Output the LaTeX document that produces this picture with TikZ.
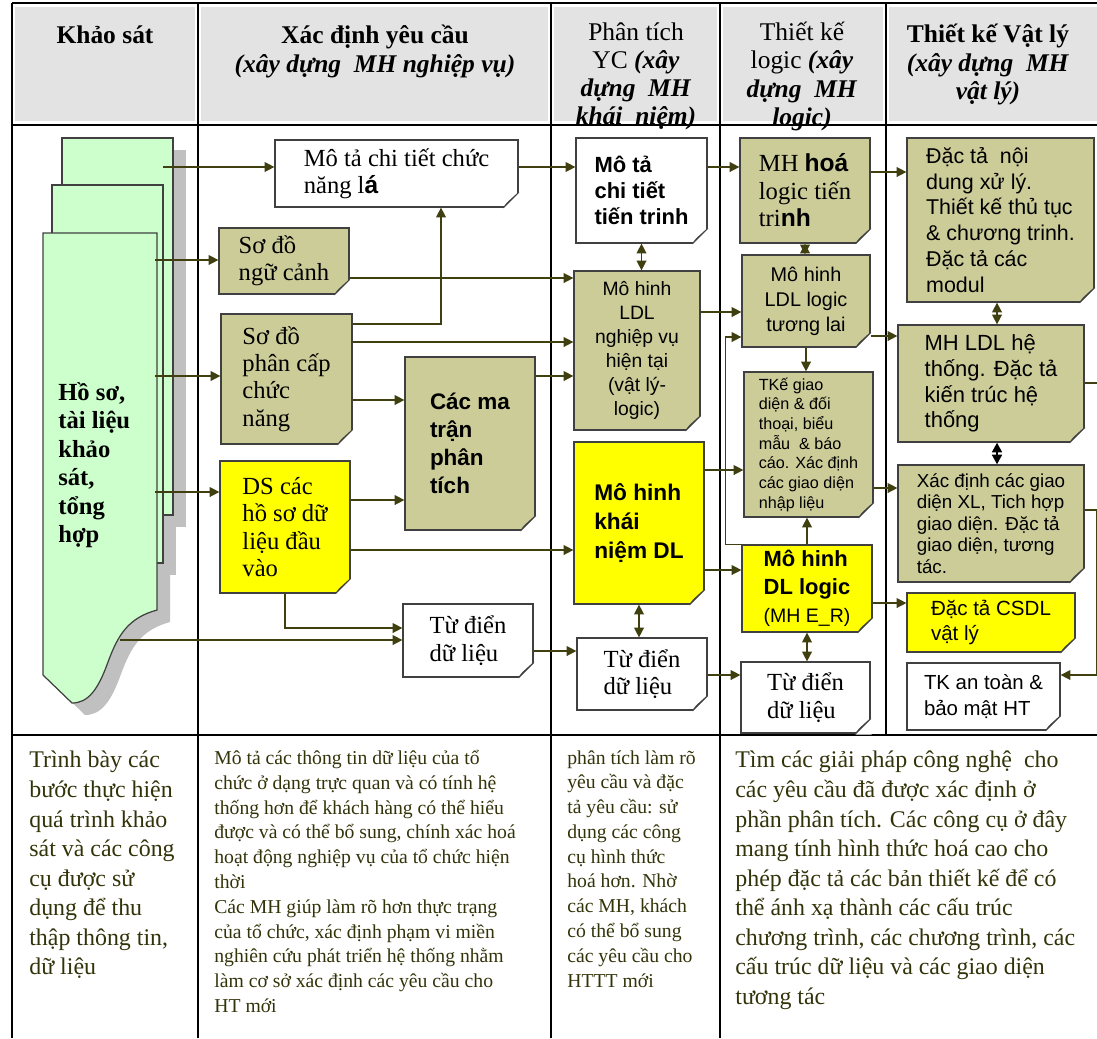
\documentclass[tikz,border=0pt]{standalone}
\usepackage{fontspec}
\setmainfont{Liberation Serif}
\setsansfont{Liberation Sans}
\usetikzlibrary{arrows.meta}
\definecolor{khaki}{HTML}{CCCC99}
\definecolor{docyellow}{HTML}{FFFF00}
\definecolor{pagegreen}{HTML}{CCFFCC}
\definecolor{headgray}{HTML}{E3E3E3}
\definecolor{boxline}{HTML}{404040}
\definecolor{linkol}{HTML}{3F3F0F}
\definecolor{textol}{HTML}{33330A}
\definecolor{foldtan}{HTML}{D9A47F}
\definecolor{foldyel}{HTML}{CCC23A}
\definecolor{foldgray}{HTML}{C8C8C8}
\definecolor{shadowgray}{HTML}{C0C0C0}
% dog-ear on the bottom right corner of a note
\newcommand{\fold}[2]{%
  \fill[white] ([xshift=-0.3cm,yshift=-0.02cm]#1.south east) -- ([xshift=0.02cm,yshift=-0.02cm]#1.south east)
    -- ([xshift=0.02cm,yshift=0.3cm]#1.south east) -- ([yshift=0.3cm]#1.south east) -- ([xshift=-0.3cm]#1.south east) -- cycle;
  \filldraw[draw=boxline, fill=#2, line width=0.6pt, line join=round] ([xshift=-0.3cm]#1.south east)
    -- ([yshift=0.3cm]#1.south east) -- ([xshift=-0.22cm,yshift=0.1cm]#1.south east) -- cycle;}

\begin{document}
\begin{tikzpicture}[x=0.02cm, y=-0.02cm,
  >={Triangle[length=5.5pt,width=5.5pt]},
  frame/.style={draw=black, line width=0.8pt},
  note/.style={draw=boxline, line width=0.7pt, inner sep=0pt, align=left},
  wnote/.style={note, fill=white},
  knote/.style={note, fill=khaki},
  ynote/.style={note, fill=docyellow},
  sz/.style 2 args={minimum width=#1*0.02cm, minimum height=#2*0.02cm},
  rmtext/.style={font=\fontsize{14}{15.6}\selectfont},
  head/.style={anchor=north, align=center, inner sep=0pt, font=\fontsize{14.5}{16}\selectfont},
  desc/.style={anchor=north west, align=left, inner sep=0pt, text=textol}]
\useasboundingbox (0,0) rectangle (1097,1038);
% ---- table
\fill[headgray] (15,7) rectangle (195,121);
\fill[headgray] (201,7) rectangle (548,121);
\fill[headgray] (554,7) rectangle (717,121);
\fill[headgray] (723,7) rectangle (883,121);
\fill[headgray] (889,7) rectangle (1097,121);
\draw[frame] (12,3) -- (1097,3); \draw[frame] (12,125) -- (1097,125); \draw[frame] (12,735) -- (1097,735);
\draw[frame] (12,3) -- (12,1038); \draw[frame] (198,3) -- (198,1038); \draw[frame] (551,3) -- (551,1038);
\draw[frame] (720,3) -- (720,1038); \draw[frame] (886,3) -- (886,735);
\node[head] (h1) at (105,25) {\textbf{Khảo sát}};
\node[head] (h2) at (375,25) {\textbf{Xác định yêu cầu}\\\textbf{\textit{(xây dựng~ MH nghiệp vụ)}}};
\node[head] (h3) at (636,22) {Phân tích\\YC \textbf{\textit{(xây}}\\\textbf{\textit{dựng~ MH}}\\\textbf{\textit{khái~ niệm)}}};
\node[head] (h4) at (802,22) {Thiết kế\\logic \textbf{\textit{(xây}}\\\textbf{\textit{dựng~ MH}}\\\textbf{\textit{logic)}}};
\node[head] (h5) at (988,24) {\textbf{Thiết kế Vật lý}\\\textbf{\textit{(xây dựng~ MH}}\\\textbf{\textit{vật lý)}}};
% ---- survey stack
\fill[shadowgray] (75,150) rectangle (186,527);
\fill[shadowgray] (65,197) rectangle (176,575);
\fill[shadowgray, shift={(13,12)}] (43,233) -- (157,233) -- (157,610) .. controls (128,618) and (118,635) .. (108,662)
  .. controls (98,690) and (88,703) .. (72,703) -- (43,675) -- cycle;
\filldraw[fill=pagegreen, draw=boxline, line width=0.7pt] (62,138) rectangle (173,515);
\filldraw[fill=pagegreen, draw=boxline, line width=0.7pt] (52,185) rectangle (163,563);
\filldraw[fill=pagegreen, draw=boxline, line width=0.7pt] (43,233) -- (157,233) -- (157,610) .. controls (128,618) and (118,635) .. (108,662)
  .. controls (98,690) and (88,703) .. (72,703) -- (43,675) -- cycle;
\node[anchor=west, align=left, inner sep=0pt, font=\bfseries\fontsize{14}{16.2}\selectfont] (hoso) at (58,465) {Hồ sơ,\\tài liệu\\khảo\\sát,\\tổng\\hợp};
\coordinate (p1) at (163,167); \coordinate (p2) at (155,260); \coordinate (p3) at (155,376);
\coordinate (p4) at (155,492); \coordinate (p5) at (120,640);
% ---- requirements column
\node[wnote, rmtext, sz={243}{67}] (mtcn) at (396.5,173.5) {Mô tả chi tiết chức\\năng l{\sffamily\bfseries á}};
\node[knote, rmtext, sz={130}{66}] (sdnc) at (284,261) {Sơ đồ\\ngữ cảnh};
\node[knote, rmtext, sz={131}{130}] (sdpc) at (286.5,379) {Sơ đồ\\phân cấp\\chức\\năng};
\node[ynote, rmtext, sz={130}{132}] (dsds) at (285,527) {DS các\\hồ sơ dữ\\liệu đầu\\vào};
\node[knote, font=\sffamily\bfseries\fontsize{12.8}{15.9}\selectfont, sz={130}{173}] (cmt) at (470,443.5) {Các ma\\trận\\phân\\tích};
\node[wnote, rmtext, sz={130}{73}] (tdd1) at (468,640.5) {Từ điển\\dữ liệu};
% ---- analysis column
\node[wnote, font=\sffamily\bfseries\fontsize{12.5}{14.7}\selectfont, sz={131}{105}] (mttt) at (641.5,190.5) {Mô tả\\chi tiết\\tiến trinh};
\node[knote, align=center, font=\sffamily\fontsize{11}{13.6}\selectfont, sz={126}{159}] (ldlnv) at (637,350.5) {Mô hinh\\LDL\\nghiệp vụ\\hiện tại\\(vật lý-\\logic)};
\node[ynote, font=\sffamily\bfseries\fontsize{12.9}{16.4}\selectfont, sz={130}{162}] (mhkn) at (639,523) {Mô hinh\\khái\\niệm DL};
\node[wnote, rmtext, sz={130}{72}] (tdd2) at (642,674) {Từ điển\\dữ liệu};
% ---- logical design column
\node[knote, rmtext, sz={130}{105}] (mhhoa) at (805,190.5) {MH {\sffamily\bfseries hoá}\\logic tiến\\tri{\sffamily\bfseries nh}};
\node[knote, align=center, font=\sffamily\fontsize{11.3}{14.2}\selectfont, sz={128}{92}] (ldltl) at (806,301) {Mô hinh\\LDL logic\\tương lai};
\node[knote, font=\sffamily\fontsize{9.2}{11.2}\selectfont, sz={129}{145}] (tkgd) at (808.5,444.5) {TKế giao\\diện \& đối\\thoại, biểu\\mẫu~ \& báo\\cáo. Xác định\\các giao diện\\nhập liệu};
\node[ynote, font=\sffamily\bfseries\fontsize{12.5}{16}\selectfont, sz={130}{87}] (mhdl) at (807,588.5) {Mô hinh\\DL logic\\{\mdseries\fontsize{11.1}{15}\selectfont (MH E\_R)}};
\node[wnote, rmtext, sz={129}{71}] (tdd3) at (805.5,697.5) {Từ điển\\dữ liệu};
% ---- physical design column
\node[knote, font=\sffamily\fontsize{12.2}{14.7}\selectfont, sz={187}{164}] (dtnd) at (1000.5,220) {Đặc tả~ nội\\dung xử lý.\\Thiết kế thủ tục\\\& chương trinh.\\Đặc tả các\\modul};
\node[knote, font=\sffamily\fontsize{12.5}{14.7}\selectfont, sz={186}{117}] (mhldlht) at (991,383.5) {MH LDL hệ\\thống. Đặc tả\\kiến trúc hệ\\thống};
\node[knote, font=\sffamily\fontsize{10.7}{12.2}\selectfont, sz={186}{117}] (xdgd) at (991,523.5) {Xác định các giao\\diện XL, Tich hợp\\giao diện. Đặc tả\\giao diện, tương\\tác.};
\node[ynote, font=\sffamily\fontsize{11.7}{14.2}\selectfont, sz={168}{59}] (dtcsdl) at (991,622.5) {Đặc tả CSDL\\vật lý};
\node[wnote, font=\sffamily\fontsize{11.6}{15.3}\selectfont, sz={153}{67}] (tkat) at (983.5,696.5) {TK an toàn \&\\bảo mật HT};
\coordinate (rim) at (1097,383);
% ---- dog-ears
\fold{mtcn}{foldgray} \fold{sdnc}{foldtan} \fold{sdpc}{foldtan} \fold{dsds}{foldyel} \fold{cmt}{foldtan} \fold{tdd1}{foldgray}
\fold{mttt}{foldgray} \fold{ldlnv}{foldtan} \fold{mhkn}{foldyel} \fold{tdd2}{foldgray}
\fold{mhhoa}{foldtan} \fold{ldltl}{foldtan} \fold{tkgd}{foldtan} \fold{mhdl}{foldyel} \fold{tdd3}{foldgray}
\fold{dtnd}{foldtan} \fold{mhldlht}{foldtan} \fold{xdgd}{foldtan} \fold{dtcsdl}{foldyel} \fold{tkat}{foldgray}
% ---- connectors
\begin{scope}[draw=linkol, line width=0.8pt]
\draw[->] (p1) -- (p1 -| mtcn.west); \draw[->] (p2) -- (p2 -| sdnc.west); \draw[->] (p3) -- (p3 -| sdpc.west);
\draw[->] (p4) -- (p4 -| dsds.west); \draw[->] (p5) -- (p5 -| tdd1.west);
\draw[->] (dsds.south) |- (tdd1.west |- 0,628);
\draw[->] (sdnc.east |- 0,278) -- (ldlnv.west |- 0,278);
\draw[->] (sdpc.east |- 0,324) -| (441,0 |- mtcn.south);
\draw[->] (sdpc.east |- 0,342) -- (ldlnv.west |- 0,342);
\draw[->] (sdpc.east |- 0,400) -- (cmt.west |- 0,400);
\draw[->] (dsds.east |- 0,500) -- (cmt.west |- 0,500);
\draw[->] (cmt.east |- 0,376) -- (ldlnv.west |- 0,376);
\draw[->] (dsds.east |- 0,550) -- (mhkn.west |- 0,550);
\draw[->] (tdd1.east |- 0,651) -- (tdd2.west |- 0,651);
\draw[->] (mtcn.east |- 0,167) -- (mttt.west |- 0,167);
\draw[<->] (mttt.south) -- (mttt.south |- ldlnv.north);
\draw[<->] (mhkn.south) -- (mhkn.south |- tdd2.north);
\draw[->] (mttt.east |- 0,167) -- (mhhoa.west |- 0,167);
\draw[->] (ldlnv.east |- 0,312) -- (ldltl.west |- 0,312);
\draw[->] (mhkn.east |- 0,470) -- (tkgd.west |- 0,470);
\draw[->] (mhkn.east |- 0,570) -- (mhdl.west |- 0,570);
\draw[->] (tdd2.east |- 0,675) -- (tdd3.west |- 0,675);
\draw[->] (mhdl.north west) -- ++(-16,0) |- (ldltl.west |- 0,337);
\draw[<->] (mhhoa.south) -- (mhhoa.south |- ldltl.north);
\draw[->] (ldltl.south) -- (ldltl.south |- tkgd.north);
\draw[->] (mhdl.north) -- (mhdl.north |- tkgd.south);
\draw[<->] (mhdl.south) -- (mhdl.south |- tdd3.north);
\draw[->] (mhhoa.east |- 0,172) -- (dtnd.west |- 0,172);
\draw[->] (ldltl.east |- 0,336) -- (mhldlht.west |- 0,336);
\draw[->] (tkgd.east |- 0,488) -- (xdgd.west |- 0,488);
\draw[->] (mhdl.east |- 0,603) -- (dtcsdl.west |- 0,603);
\draw[<->] (997,0 |- dtnd.south) -- (997,0 |- mhldlht.north);
\draw[<->, draw=black, line width=1.4pt] (997,0 |- mhldlht.south) -- (997,0 |- xdgd.north);
\draw (mhldlht.east |- rim) -- (rim);
\draw[->] (xdgd.east |- 0,510) -- ++(12,0) |- (tkat.east |- 0,675);
\end{scope}
% ---- bottom row
\node[desc, font=\fontsize{13.6}{16.8}\selectfont] (d1) at (29,751) {Trình bày các\\bước thực hiện\\quá trình khảo\\sát và các công\\cụ được sử\\dụng để thu\\thập thông tin,\\dữ liệu};
\node[desc, font=\fontsize{11.2}{14.1}\selectfont] (d2) at (214,750) {Mô tả các thông tin dữ liệu của tổ\\chức ở dạng trực quan và có tính hệ\\thống hơn để khách hàng có thể hiểu\\được và có thể bổ sung, chính xác hoá\\hoạt động nghiệp vụ của tổ chức hiện\\thời\\Các MH giúp làm rõ hơn thực trạng\\của tổ chức, xác định phạm vi miền\\nghiên cứu phát triển hệ thống nhằm\\làm cơ sở xác định các yêu cầu cho\\HT mới};
\node[desc, font=\fontsize{11.2}{14.1}\selectfont] (d3) at (567,750) {phân tích làm rõ\\yêu cầu và đặc\\tả yêu cầu: sử\\dụng các công\\cụ hình thức\\hoá hơn. Nhờ\\các MH, khách\\có thể bổ sung\\các yêu cầu cho\\HTTT mới};
\node[desc, font=\fontsize{13.6}{16.8}\selectfont] (d4) at (735,751) {Tìm các giải pháp công nghệ~ cho\\các yêu cầu đã được xác định ở\\phần phân tích. Các công cụ ở đây\\mang tính hình thức hoá cao cho\\phép đặc tả các bản thiết kế để có\\thể ánh xạ thành các cấu trúc\\chương trình, các chương trình, các\\cấu trúc dữ liệu và các giao diện\\tương tác};
\end{tikzpicture}
\end{document}
